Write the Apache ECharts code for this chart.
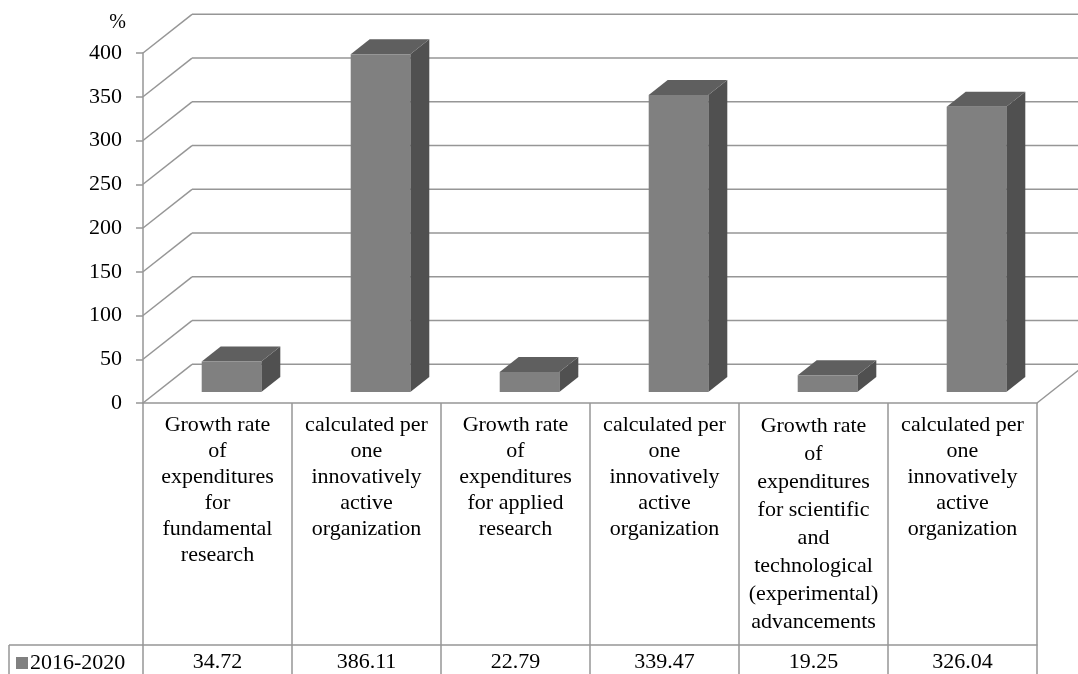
<!DOCTYPE html>
<html>
<head>
<meta charset="utf-8">
<script src="https://cdn.jsdelivr.net/npm/echarts@6/dist/echarts.min.js"></script>
<style>
html,body{margin:0;padding:0;background:#fff;}
#chart{width:1078px;height:674px;}
</style>
</head>
<body>
<div id="chart"></div>
<script>
// ---- data ----
var categories = [
  "Growth rate\nof\nexpenditures\nfor\nfundamental\nresearch",
  "calculated per\none\ninnovatively\nactive\norganization",
  "Growth rate\nof\nexpenditures\nfor applied\nresearch",
  "calculated per\none\ninnovatively\nactive\norganization",
  "Growth rate\nof\nexpenditures\nfor scientific\nand\ntechnological\n(experimental)\nadvancements",
  "calculated per\none\ninnovatively\nactive\norganization"
];
var seriesName = "2016-2020";
var values = [34.72, 386.11, 22.79, 339.47, 19.25, 326.04];
var valueLabels = ["34.72", "386.11", "22.79", "339.47", "19.25", "326.04"];
var yTicks = [0, 50, 100, 150, 200, 250, 300, 350, 400];

// ---- style constants ----
var FONT = "Liberation Serif";
var GRID_COLOR = "#969696";
var WALL_DX = 49, WALL_DY = -38.7;   // depth of the 3D box
var BAR_DX = 14, BAR_DY = -11;       // bar front face depth offset
var BAR_DEPTH_X = 19, BAR_DEPTH_Y = -15;

var chart = echarts.init(document.getElementById('chart'), null, {renderer: 'canvas'});

var option = {
  animation: false,
  backgroundColor: '#ffffff',
  textStyle: {fontFamily: FONT, color: '#000'},
  grid: {left: 143, right: 41, top: 53, bottom: 271, containLabel: false},
  legend: {
    show: true,
    left: 11, top: 647,
    itemWidth: 12, itemHeight: 12, itemGap: 4,
    icon: 'rect',
    textStyle: {fontFamily: FONT, fontSize: 22, color: '#000', padding: [0,0,0,-3]},
    data: [seriesName]
  },
  xAxis: [{
    type: 'category',
    data: categories,
    position: 'bottom',
    axisLine: {show: true, onZero: false, lineStyle: {color: GRID_COLOR, width: 1.5}},
    axisTick: {show: true, interval: 0, length: 271, lineStyle: {color: GRID_COLOR, width: 1.5}},
    axisLabel: {
      interval: 0, margin: 9, fontFamily: FONT, fontSize: 22, lineHeight: 26,
      color: '#000', verticalAlign: 'top', align: 'center',
      formatter: function (value) {
        var n = value.split('\n').length;
        return (n > 6 ? '{b|' : '{a|') + value + '}';
      },
      rich: {
        a: {fontFamily: FONT, fontSize: 22, lineHeight: 26, color: '#000', align: 'center'},
        b: {fontFamily: FONT, fontSize: 22, lineHeight: 28, color: '#000', align: 'center'}
      }
    },
    splitLine: {show: false}
  }, {
    type: 'category',
    data: valueLabels,
    position: 'bottom',
    offset: 242,
    axisLine: {show: true, onZero: false, lineStyle: {color: GRID_COLOR, width: 1.5}},
    axisTick: {show: false},
    axisLabel: {interval: 0, margin: 6, fontFamily: FONT, fontSize: 22, color: '#000', verticalAlign: 'top'},
    splitLine: {show: false}
  }],
  yAxis: {
    type: 'value',
    min: 0, max: 400, interval: 50,
    name: '%',
    nameLocation: 'end',
    nameGap: 20,
    nameTextStyle: {fontFamily: FONT, fontSize: 20, color: '#000', align: 'right', padding: [0, 17, 0, 0]},
    axisLine: {show: true, lineStyle: {color: GRID_COLOR, width: 1.5}},
    axisTick: {show: true, length: 7, lineStyle: {color: GRID_COLOR, width: 1.5}},
    axisLabel: {margin: 21, fontFamily: FONT, fontSize: 22, color: '#000'},
    splitLine: {show: false}
  },
  series: [{
    type: 'custom',
    name: 'walls',
    clip: false,
    silent: true,
    z: 1,
    data: yTicks.map(function (v) { return [0, v]; }),
    renderItem: function (params, api) {
      var cs = params.coordSys;
      var y = api.coord([0, api.value(1)])[1];
      var x0 = cs.x;
      var children = [
        {type: 'line', shape: {x1: x0, y1: y, x2: x0 + WALL_DX, y2: y + WALL_DY},
         style: {stroke: GRID_COLOR, lineWidth: 1.5}},
        {type: 'line', shape: {x1: x0 + WALL_DX, y1: y + WALL_DY, x2: x0 + cs.width + WALL_DX + 20, y2: y + WALL_DY},
         style: {stroke: GRID_COLOR, lineWidth: 1.5}}
      ];
      if (api.value(1) === 0) {
        var xr = x0 + cs.width;
        children.push({type: 'line', shape: {x1: xr, y1: y, x2: xr + WALL_DX, y2: y + WALL_DY},
          style: {stroke: GRID_COLOR, lineWidth: 1.5}});
      }
      return {type: 'group', children: children};
    }
  }, {
    type: 'custom',
    name: seriesName,
    clip: false,
    z: 3,
    itemStyle: {color: '#808080'},
    data: values.map(function (v, i) { return [i, v]; }),
    renderItem: function (params, api) {
      var i = api.value(0), v = api.value(1);
      var base = api.coord([i, 0]);
      var top = api.coord([i, v]);
      var bw = api.size([1, 0])[0] * 0.4;
      var cx = base[0];
      var fl = cx + BAR_DX - bw / 2, fr = fl + bw;
      var fb = base[1] + BAR_DY, ft = top[1] + BAR_DY;
      return {type: 'group', children: [
        {type: 'polygon', shape: {points: [[fr, ft], [fr + BAR_DEPTH_X, ft + BAR_DEPTH_Y], [fr + BAR_DEPTH_X, fb + BAR_DEPTH_Y], [fr, fb]]},
         style: {fill: '#505050'}},
        {type: 'polygon', shape: {points: [[fl, ft], [fr, ft], [fr + BAR_DEPTH_X, ft + BAR_DEPTH_Y], [fl + BAR_DEPTH_X, ft + BAR_DEPTH_Y]]},
         style: {fill: '#5f5f5f'}},
        {type: 'rect', shape: {x: fl, y: ft, width: bw, height: fb - ft},
         style: {fill: '#808080'}}
      ]};
    }
  }],
  graphic: [
    {type: 'line', shape: {x1: 9, y1: 645, x2: 143, y2: 645}, style: {stroke: GRID_COLOR, lineWidth: 1.5}, z: 10},
    {type: 'line', shape: {x1: 9, y1: 645, x2: 9, y2: 674}, style: {stroke: GRID_COLOR, lineWidth: 1.5}, z: 10}
  ]
};
chart.setOption(option);
</script>
</body>
</html>
